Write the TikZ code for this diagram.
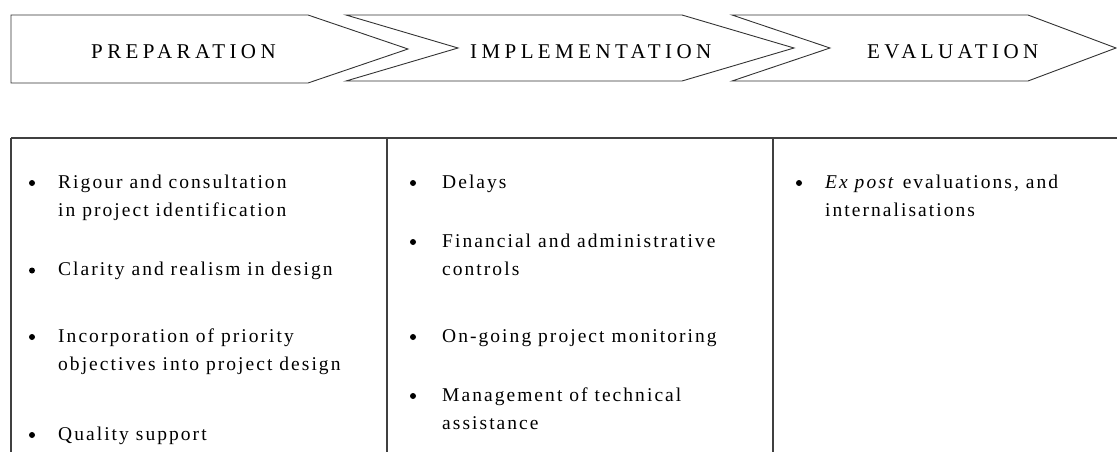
\documentclass[tikz,border=0pt]{standalone}
\usepackage{fontspec}
\setmainfont{Liberation Serif}
\usepackage{tikz}

\tikzset{
  stage/.style={draw=black!80, line width=0.9pt, line join=miter},
  stagetext/.style={anchor=base west, inner sep=0pt, font=\fontsize{21}{25}\selectfont\addfontfeature{LetterSpace=21}},
  celltext/.style={anchor=base west, inner sep=0pt, font=\fontsize{19.5}{23}\selectfont\addfontfeature{LetterSpace=10.5}},
  rule/.style={draw=black!75, line width=1.1pt}
}

\begin{document}
\begin{tikzpicture}[x=1pt, y=-1pt]
        \useasboundingbox (0, 0) rectangle (1117, 452);

        % the three stages
        \draw[stage] (11, 15) -- (308, 15) -- (408, 49) -- (308, 83) -- (11, 83) -- cycle;
        \draw[stage] (346, 15) -- (682, 15) -- (794, 48) -- (682, 81) -- (346, 81) -- (458, 48) -- cycle;
        \draw[stage] (732, 15) -- (1028, 15) -- (1116, 48) -- (1028, 81) -- (732, 81) -- (830, 48) -- cycle;

        \node[stagetext] (prep) at (91, 59) {PREPARATION};
        \node[stagetext] (impl) at (470, 59) {IMPLEMENTATION};
        \node[stagetext] (eval) at (867, 59) {EVALUATION};

        % table below
        \draw[rule] (11, 138) -- (1117, 138);
        \draw[rule] (11, 138) -- (11, 452);
        \draw[rule] (387, 138) -- (387, 452);
        \draw[rule] (773, 138) -- (773, 452);

        % preparation column
        \fill (32, 183) circle (3pt);
        \node[celltext] (p1a) at (58, 188) {Rigour and consultation};
        \node[celltext] (p1b) at (58, 216.5) {in project identification};
        \fill (32, 270.5) circle (3pt);
        \node[celltext] (p2) at (58, 275.5) {Clarity and realism in design};
        \fill (32, 337) circle (3pt);
        \node[celltext] (p3a) at (58, 342) {Incorporation of priority};
        \node[celltext] (p3b) at (58, 370.5) {objectives into project design};
        \fill (32, 435) circle (3pt);
        \node[celltext] (p4) at (58, 440) {Quality support};

        % implementation column
        \fill (413, 183) circle (3pt);
        \node[celltext] (i1) at (442, 188) {Delays};
        \fill (413, 242) circle (3pt);
        \node[celltext] (i2a) at (442, 247) {Financial and administrative};
        \node[celltext] (i2b) at (442, 275.5) {controls};
        \fill (413, 337) circle (3pt);
        \node[celltext] (i3) at (442, 342) {On-going project monitoring};
        \fill (413, 396) circle (3pt);
        \node[celltext] (i4a) at (442, 401) {Management of technical};
        \node[celltext] (i4b) at (442, 429.5) {assistance};

        % evaluation column
        \fill (799, 183) circle (3pt);
        \node[celltext] (e1a) at (825, 188) {\textit{Ex post} evaluations, and};
        \node[celltext] (e1b) at (825, 216.5) {internalisations};
    \end{tikzpicture}
\end{document}
